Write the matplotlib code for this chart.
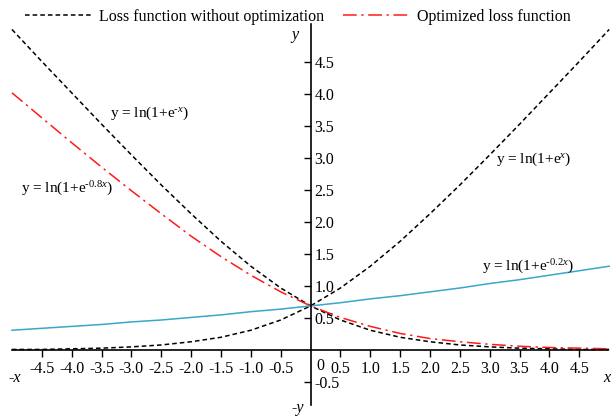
import matplotlib
matplotlib.use("Agg")
import matplotlib.pyplot as plt
import numpy as np

plt.rcParams['font.family'] = ['Liberation Serif', 'DejaVu Serif']
plt.rcParams['mathtext.fontset'] = 'custom'
plt.rcParams['mathtext.rm'] = 'Liberation Serif'
plt.rcParams['mathtext.it'] = 'Liberation Serif:italic'

x_vals = [-5.0, -4.5, -4.0, -3.5, -3.0, -2.5, -2.0, -1.5, -1.0, -0.5, 0.0,
          0.5, 1.0, 1.5, 2.0, 2.5, 3.0, 3.5, 4.0, 4.5, 5.0]
loss_neg_x = [5.01, 4.51, 4.02, 3.53, 3.05, 2.58, 2.13, 1.70, 1.31, 0.97, 0.69,
              0.47, 0.31, 0.20, 0.13, 0.08, 0.05, 0.03, 0.02, 0.01, 0.01]
loss_pos_x = [0.01, 0.01, 0.02, 0.03, 0.05, 0.08, 0.13, 0.20, 0.31, 0.47, 0.69,
              0.97, 1.31, 1.70, 2.13, 2.58, 3.05, 3.53, 4.02, 4.51, 5.01]
loss_08 = [4.02, 3.63, 3.24, 2.86, 2.49, 2.13, 1.78, 1.46, 1.17, 0.91, 0.69,
           0.51, 0.37, 0.26, 0.18, 0.13, 0.09, 0.06, 0.04, 0.03, 0.02]
loss_02 = [0.31, 0.34, 0.37, 0.40, 0.44, 0.47, 0.51, 0.55, 0.60, 0.64, 0.69,
           0.74, 0.80, 0.85, 0.91, 0.97, 1.04, 1.10, 1.17, 1.24, 1.31]

x_ticks = [-4.5, -4.0, -3.5, -3.0, -2.5, -2.0, -1.5, -1.0, -0.5,
           0.5, 1.0, 1.5, 2.0, 2.5, 3.0, 3.5, 4.0, 4.5]
y_ticks = [-0.5, 0.5, 1.0, 1.5, 2.0, 2.5, 3.0, 3.5, 4.0, 4.5]

FS = 11.5      # legend / ticks
FS_ANN = 11    # curve labels
CYAN = '#3aa6c8'
RED = '#ff1a1a'

fig = plt.figure(figsize=(6.11, 4.16), dpi=100)
ax = fig.add_axes([0, 0, 1, 1])
ax.set_xlim(-5.20, 5.03)
ax.set_ylim(-1.03, 5.47)

ax.plot(x_vals, loss_neg_x, color='black', ls=(0, (3, 2)), lw=1.1,
        label='Loss function without optimization')
ax.plot(x_vals, loss_pos_x, color='black', ls=(0, (3, 2)), lw=1.1)
ax.plot(x_vals, loss_08, color=RED, ls=(0, (9, 3, 1.5, 3)), lw=1.1,
        label='Optimized loss function')
ax.plot(x_vals, loss_02, color=CYAN, lw=1.1)

# axes through the origin
for side in ['top', 'right']:
    ax.spines[side].set_visible(False)
ax.spines['left'].set_position(('data', 0))
ax.spines['bottom'].set_position(('data', 0))
ax.spines['left'].set_bounds(-0.86, 5.1)
ax.spines['bottom'].set_bounds(-5.0, 4.98)
ax.spines['left'].set_linewidth(1.2)
ax.spines['bottom'].set_linewidth(1.2)

ax.set_xticks(x_ticks)
ax.set_xticklabels([f'{v:.1f}' for v in x_ticks])
ax.set_yticks(y_ticks)
ax.set_yticklabels([f'{v:.1f}' for v in y_ticks])
ax.tick_params(axis='x', direction='out', length=5, width=1, labelsize=FS, pad=3)
ax.tick_params(axis='y', direction='out', length=5, width=1, labelsize=FS, pad=-8)
for lbl in ax.get_yticklabels():
    lbl.set_horizontalalignment('left')

ax.text(0.1, -0.13, '0', fontsize=FS, ha='left', va='top')

# axis labels
ax.text(-0.2, 4.93, 'y', fontsize=FS, style='italic', ha='right', va='center')
ax.text(-0.12, -0.9, '-y', fontsize=FS, style='italic', ha='right', va='center')
ax.text(-5.06, -0.44, '-x', fontsize=FS, style='italic', ha='left', va='center')
ax.text(5.02, -0.44, 'x', fontsize=FS, style='italic', ha='right', va='center')

# curve annotations
ax.text(-3.35, 3.7, 'y = ln(1+e$^{\u2010x}$)', fontsize=FS_ANN, ha='left', va='center')
ax.text(-4.85, 2.52, 'y = ln(1+e$^{\u20100.8x}$)', fontsize=FS_ANN, ha='left', va='center')
ax.text(3.1, 2.98, 'y = ln(1+e$^{x}$)', fontsize=FS_ANN, ha='left', va='center')
ax.text(2.87, 1.3, 'y = ln(1+e$^{\u20100.2x}$)', fontsize=FS_ANN, ha='left', va='center')

fig.legend(loc='upper left', bbox_to_anchor=(0.017, 1.013), ncol=2, frameon=False,
           fontsize=FS, handlelength=4.25, handletextpad=0.38, columnspacing=1.2)

fig.savefig('out.png', dpi=100)
